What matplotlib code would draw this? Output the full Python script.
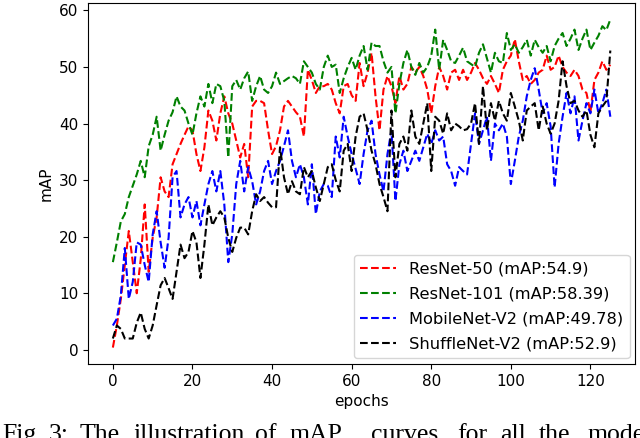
import matplotlib
matplotlib.use("Agg")
import matplotlib.pyplot as plt
import numpy as np

epochs = list(range(126))

resnet50 = [0.4, 4.3, 9, 15, 21, 15.5, 10, 16, 25.7, 13.8,
            19.8, 23.4, 30.5, 28, 27, 32.8, 34.6, 36.4, 38, 39.5,
            38.8, 34.6, 31.6, 35.8, 42.3, 40.5, 37, 41.8, 44.8, 41.8,
            40, 37, 34, 36.4, 30.5, 43, 44, 44, 43.6, 38.8,
            34.6, 36, 38.8, 43, 44, 43, 42, 41.2, 37.7, 49.5,
            47.7, 45.4, 46.6, 46.6, 47, 46, 43.6, 41.8, 46.6, 47,
            45, 44, 50.7, 46.6, 49, 52.5, 44.8, 38.8, 46, 48.4,
            46.6, 43.6, 48.4, 46, 47, 50, 49, 50, 48.4, 46,
            41.8, 46.6, 50, 48.4, 46, 49, 49.5, 47.7, 49.5, 47.7,
            49, 50.7, 49.5, 48, 47, 48.4, 47, 45.4, 49.5, 51,
            52, 54.9, 51, 47.7, 48.4, 47, 47.7, 49, 49.5, 52,
            49.5, 50, 52, 50, 49, 48.4, 49.5, 48.4, 46, 45.4,
            42, 47.7, 49, 51, 49.5, 50.4]

resnet101 = [15.5, 19, 22.7, 24, 27, 29, 31, 33.4, 30.5, 36,
             38, 41.2, 35.2, 38, 40.5, 42, 44.8, 43, 42.3, 40,
             38, 41.8, 44.8, 43, 47, 43.6, 47, 46.6, 44, 34,
             46.6, 47.7, 46, 48, 49.2, 44, 46.6, 48.4, 46, 45.4,
             46.6, 49, 47, 47.5, 48, 48.4, 48, 47, 51, 50,
             49, 47, 46, 50, 52, 50, 50.4, 45.4, 48, 50,
             51.6, 49.5, 52, 53.7, 49.5, 54.3, 53.7, 53.7, 51, 49,
             50, 41.8, 47, 50.7, 53, 50, 48.6, 50.7, 49, 50,
             52, 56.6, 49.5, 54.8, 53, 51, 50.7, 52, 53.4, 51,
             50.5, 50, 52.5, 54, 51.5, 49, 52.5, 51, 50.7, 56,
             53, 54, 52.5, 53.5, 54.8, 52, 54.8, 53.5, 52.5, 53.7,
             51, 53.7, 55, 56, 53.7, 55, 56.6, 53, 55, 56.6,
             53, 54.3, 55.5, 57.2, 56.5, 58.39]

mobilenet = [4.3, 5.5, 9.6, 18, 9, 12, 19, 18.6, 15, 12,
             20.4, 24.5, 19, 14.5, 19.8, 30.5, 31.6, 23.4, 25.7, 27,
             23.4, 26.3, 22, 25.7, 29.3, 31.6, 28, 31.6, 25.7, 15.5,
             20.4, 29.3, 33.4, 28, 32.3, 29.8, 25.7, 28, 31.6, 33.4,
             29.3, 31.6, 33.4, 36, 38.8, 33.4, 30.5, 32.8, 30.5, 25.7,
             32.8, 24, 28, 29.3, 29, 27, 37.7, 34, 41.2, 37.7,
             34.6, 32, 29.3, 34.6, 38.8, 40.5, 34.6, 31, 28, 34.6,
             38.8, 26.3, 32.8, 35.2, 31.6, 33.4, 35.2, 33.4, 35.8, 38.2,
             36.4, 38.8, 37, 37.7, 32.8, 31.6, 29, 32.3, 31.6, 31,
             36.4, 41.8, 36.4, 38.8, 41.2, 33.4, 40, 38.8, 40, 37.7,
             29.3, 33.4, 37.7, 40.5, 44.8, 47.7, 49.78, 46, 41.8, 43.6,
             39.5, 28.7, 36.4, 41.2, 45.4, 41.8, 44.8, 37, 40.5, 43.6,
             41.8, 46, 41.8, 43.6, 46, 41.2]

shufflenet = [2, 4.3, 3.7, 2, 2, 2, 4.8, 6.6, 3.7, 2,
              4.3, 7.9, 11.4, 12.7, 10.9, 9, 13.8, 18.6, 16.2, 17.3,
              21, 19, 12.7, 18.6, 25.7, 22, 23.4, 24.5, 23.4, 19.8,
              17.3, 19.8, 21.6, 21.6, 20.4, 24.5, 27.5, 26.3, 27, 26,
              25.2, 25.2, 35.8, 30.5, 27.5, 29.8, 28, 27.5, 32.3, 30.5,
              31.6, 28.7, 26.3, 29.3, 32.3, 32.8, 30, 28, 35.2, 36.4,
              31.6, 37.7, 41.2, 41.8, 38.8, 35.2, 32.8, 29.3, 27, 24.5,
              42.3, 30.5, 36.4, 37.7, 35.2, 42.3, 37.7, 36.4, 40, 43.6,
              31.6, 41.2, 40.5, 38.2, 41.8, 38.8, 40, 39.5, 38.8, 39,
              40, 43.6, 36.4, 46.6, 38.8, 43.6, 40.5, 44, 41.8, 40.5,
              45.4, 43, 40.5, 37, 42.3, 43, 43.6, 38.8, 43, 40,
              38.2, 40, 44, 51, 46.6, 43.6, 44, 42.3, 41.2, 42.3,
              38, 35.8, 41.8, 43, 44, 52.9]

labels = ["ResNet-50 (mAP:54.9)", "ResNet-101 (mAP:58.39)",
          "MobileNet-V2 (mAP:49.78)", "ShuffleNet-V2 (mAP:52.9)"]
colors = ["red", "green", "blue", "black"]

caption_words = ["Fig.", "3:", "The", "illustration", "of", "mAP", "curves",
                 "for", "all", "the", "models"]
caption_x = [2, 49, 80, 133, 255, 290, 371, 457, 500, 539, 588]

fig = plt.figure(figsize=(6.4, 4.38), dpi=100)
ax = fig.add_axes([0.1375, 0.169, 0.855, 0.824])

for ys, c, lab in zip([resnet50, resnet101, mobilenet, shufflenet], colors, labels):
    ax.plot(epochs, ys, linestyle="--", color=c, linewidth=1.5, label=lab)

ax.set_xticks([0, 20, 40, 60, 80, 100, 120])
ax.set_yticks([0, 10, 20, 30, 40, 50, 60])
ax.tick_params(labelsize=11)
ax.set_xlabel("epochs", fontsize=11)
ax.set_ylabel("mAP", fontsize=11)
ax.legend(loc="lower right", fontsize=11.7, handlelength=2.2,
          borderaxespad=0.35, labelspacing=0.62)

for w, x in zip(caption_words, caption_x):
    fig.text(x / 640, -3 / 438, w, fontsize=18.5, family="Liberation Serif",
             ha="left", va="baseline")

fig.savefig("out.png", dpi=100)
